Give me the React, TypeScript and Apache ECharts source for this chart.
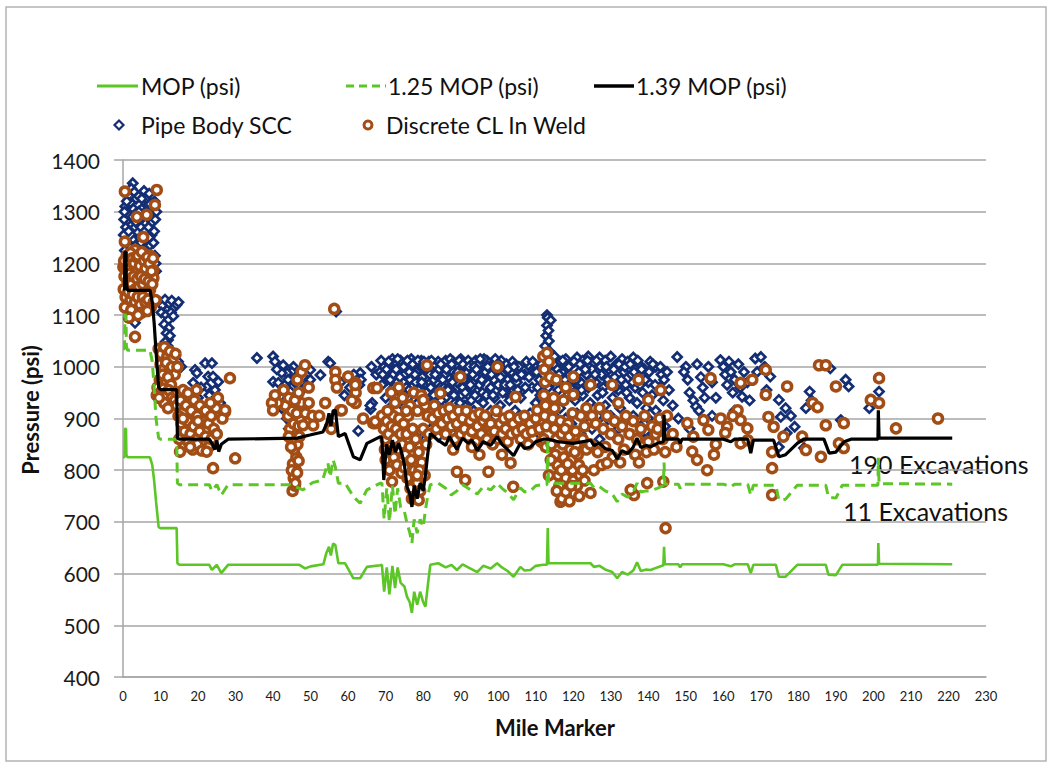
import React, { useEffect, useRef } from "react";
import * as echarts from "echarts";

// Axis ranges
const X_MIN = 0, X_MAX = 230, X_STEP = 10;
const Y_MIN = 400, Y_MAX = 1400, Y_STEP = 100;

// [mile marker, psi]
const mopPsi: number[][] = [
  [0,825],[0.4,825],[0.5,880],[0.8,880],[0.9,830],[1.2,825],[7.2,825],[7.8,810],[8.3,780],[8.8,740],[9.5,690],[10,688],[14.3,688],[14.5,620],[15,617],[23,617],[23.7,607],[25,617],[26.2,601],[28,617],[47,617],[48.5,610],[50,614],[53.4,618],[54.2,640],[54.9,652],[55.4,635],[56,658],[56.6,655],[57.4,620],[59.2,620],[61.4,591],[63.2,591],[65,613],[68.6,616],[69,617],[69.6,565],[70.3,612],[71,560],[71.8,615],[72.5,572],[73.2,612],[74,582],[75,575],[75.7,555],[76.4,545],[77,524],[77.6,565],[78.4,540],[79.2,565],[80,545],[80.6,536],[81.2,575],[81.9,617],[84,620],[86,612],[87.5,617],[89,607],[90.5,618],[92,612],[94.4,603],[96,615],[98,610],[99.7,620],[101,612],[102.5,605],[104.1,594],[105.9,613],[107,606],[108.6,607],[110,615],[112,617],[113,617],[113.2,688],[113.4,620],[124.6,620],[125.5,613],[127,615],[128.5,608],[130.4,603],[131.7,591],[133,603],[134.5,598],[136,606],[137,622],[138,605],[139.5,608],[140.6,607],[142.4,612],[144,616],[144.2,652],[144.4,618],[148,618],[148.5,612],[149,618],[160,618],[162,614],[163,618],[166.5,618],[167.3,601],[168,617],[174,617],[174.8,594],[176.6,594],[179.7,617],[187.3,617],[188,598],[190,597],[191.7,617],[201.2,617],[201.3,659],[201.5,619],[221,618]
];

const mop125Psi: number[][] = [
  [0,1035],[0.4,1035],[0.5,1100],[0.8,1100],[0.9,1040],[1.2,1032],[7.2,1032],[7.8,1010],[8.3,960],[8.8,900],[9.5,862],[10,860],[14.3,860],[14.5,775],[15,772],[23,772],[23.7,760],[25,772],[26.2,752],[28,772],[44.6,772],[46,768],[48,762],[50.5,776],[53.2,781],[54.6,814],[55.2,787],[56,820],[56.6,806],[57.4,775],[59.2,775],[61.4,749],[63.2,736],[65,762],[68.6,775],[69,775],[69.6,705],[70.3,765],[71,700],[71.8,770],[72.5,715],[73.2,765],[74,728],[75,720],[75.7,697],[76.4,680],[77,659],[77.6,705],[78.4,678],[79.2,705],[80,690],[80.6,723],[81.2,750],[81.9,772],[84,775],[86,765],[87.5,752],[89,760],[90.5,772],[92,765],[94.4,754],[96,768],[98,762],[99.7,775],[101,765],[102.5,756],[104.1,743],[105.9,766],[107,758],[108.6,760],[110,770],[112,772],[113,772],[113.2,860],[113.4,775],[124.6,775],[125.5,766],[127,768],[128.5,760],[130.4,754],[131.7,739],[133,754],[134.5,748],[136,758],[137,775],[138,758],[139.5,760],[140.6,760],[142.4,765],[144,770],[144.2,815],[144.4,773],[148,773],[148.5,765],[149,773],[160,773],[162,768],[163,773],[166.5,773],[167.3,752],[168,771],[174,771],[174.8,742],[176.6,744],[179.7,771],[187.3,771],[188,748],[190,746],[191.7,771],[201.2,771],[201.3,824],[201.5,774],[221,773]
];

const mop139Psi: number[][] = [
  [0,1150],[0.4,1150],[0.5,1222],[0.8,1222],[0.9,1160],[1.2,1148],[7.2,1148],[7.8,1125],[8.3,1085],[8.8,1030],[9.5,960],[10,956],[14.3,956],[14.5,862],[15,860],[23,860],[23.7,852],[24.5,840],[25,858],[25.5,836],[26.2,850],[28,860],[46.5,862],[48,865],[49.8,868],[53.3,874],[54.3,890],[54.9,910],[55.4,885],[56,915],[56.6,916],[57.4,865],[59.2,871],[61.4,826],[63.2,820],[65,852],[68.6,865],[69,862],[69.5,781],[70.2,850],[71,830],[71.8,858],[72.6,835],[73.5,852],[74.4,830],[75,810],[75.7,768],[76.4,755],[77,729],[77.6,770],[78.4,745],[79.2,775],[80,760],[80.6,790],[81.2,830],[81.9,871],[84,858],[86,848],[87,865],[88,852],[89,840],[90.5,862],[92,852],[93,858],[94.4,838],[96,855],[98,848],[99.7,865],[101,850],[102.5,840],[104.1,828],[105.9,852],[107,842],[108.6,845],[110,855],[112,860],[113.4,860],[116,855],[120,852],[124.6,858],[125.5,848],[127,852],[128.5,842],[130.4,838],[131.7,822],[133,838],[134.5,832],[136,845],[137,862],[138,844],[139.5,848],[140.6,845],[142.4,852],[144,855],[144.2,907],[144.4,860],[148,860],[148.5,852],[149,860],[160,860],[162,855],[163,860],[166.5,860],[167.3,833],[168,858],[173.4,858],[174.8,826],[176.6,830],[179.7,852],[181.4,860],[186.8,860],[188.2,833],[190,835],[192.2,855],[194,860],[201.2,860],[201.3,916],[201.5,862],[221,862]
];

const pipeBodySCC: number[][] = [
  [2.6,1355],[2.2,1345],[3.0,1338],[1.6,1330],[3.5,1325],[2.0,1318],[4.2,1330],[5.6,1340],[6.2,1325],[7.0,1335],[6.6,1312],[5.0,1305],[0.6,1310],[1.2,1300],[0.3,1285],[1.8,1292],[2.8,1305],[3.6,1298],[4.6,1285],[5.4,1290],[6.0,1300],[7.4,1295],[8.0,1305],[8.4,1320],[7.8,1280],[0.8,1270],[0.2,1255],[1.5,1262],[2.4,1275],[3.2,1270],[4.0,1260],[4.8,1270],[5.8,1262],[6.8,1270],[7.6,1255],[8.3,1262],[2.9,1245],[3.8,1238],[4.5,1250],[5.2,1245],[6.4,1240],[7.2,1235],[8.1,1240],[1.2,1240],[2.0,1230],[0.5,1225],[6.0,1222],[8.5,1215],[8.6,1285],[8.9,1300],[8.7,1200],[8.8,1185],[3.3,1210],[5.5,1195],[1.0,1185],[3.2,1085],[4.2,1300],[3.4,1280],[2.5,1290],[5.0,1325],[6.5,1290],[7.2,1315],[1.0,1320],[0.4,1300],[4.8,1240],[7.0,1250],
  [9.8,1125],[10.5,1118],[11.2,1130],[11.8,1110],[12.4,1122],[13.0,1128],[13.6,1115],[14.3,1120],[14.8,1125],[10.2,1105],[11.5,1100],[12.8,1105],[13.4,1098],[12.0,1090],[11.0,1082],[12.2,1075],[11.6,1065],[12.0,1052],[12.5,1060],[11.3,1048],[11.9,1040],[12.3,1030],[11.7,1022],[14.7,1010],[13.2,985],[10.5,995],[15.5,1000],
  [19.2,994],[21.9,1007],[23.7,1007],[22.7,981],[24.0,981],[25.4,971],[19.7,988],[18.7,969],[20.0,940],[22.3,961],[25.9,930],[20.0,930],[26.0,915],[21.0,918],[23.0,945],[24.5,955],[18.5,905],[20.8,960],
  [35.7,1017],[40.0,1020],[40.5,1010],[42.7,1003],[45.4,1000],[45.0,990],[43.7,988],[42.3,988],[40.0,971],[41.4,969],[43.2,965],[45.9,969],[42.7,955],[44.6,952],[41.9,942],[45.9,942],[43.2,930],[45.0,930],[46.3,933],[42.3,920],[44.6,913],[43.7,900],[45.9,903],[45.0,891],[46.3,910],[48.0,981],[49.9,994],[49.9,975],[52.6,984],[54.7,1010],[48.6,961],[47.7,955],[44.0,975],[46.8,985],[41.0,995],[44.2,880],[47.2,925],
  [56.8,1107],[55.2,1007],[63.2,988],[63.4,975],[63.0,965],[62.7,876],[66.4,930],[66.0,918],[65.9,925],[60.5,960],[59.0,945],[61.5,985],[58.0,970],[67.0,960],[67.5,985],[66.2,1000],
  [68.5,990],[69,965],[69.5,1000],[70,940],[70.5,975],[71,1005],[71,920],[71.5,955],[72,985],[72,900],[72.5,1010],[73,940],[73,970],[73.5,995],[74,1012],[74,955],[74.5,925],[75,985],[75,1003],[75.5,960],[76,1010],[76,940],[76.5,975],[77,995],[77,915],[77.5,950],[78,1005],[78,970],[78.5,930],[79,990],[79,945],[79.5,1012],[80,965],[80,920],[80.5,1000],[81,980],[81,940],[81.5,1010],[82,960],[82,900],[82.5,990],[83,1005],[83,935],[83.5,970],[84,1010],[84,950],[84.5,985],[85,920],[85,1000],[85.5,960],[86,1012],[86,940],[86.5,980],[87,1000],[87,910],[87.5,955],[88,990],[88,1010],[88.5,930],[89,970],[89,1005],[89.5,945],[90,985],[90,1015],[90.5,960],[91,1000],[91,925],[91.5,975],[92,1012],[92,945],[92.5,990],[93,1005],[93,960],[93.5,915],[94,980],[94,1012],[94.5,940],[95,995],[95,965],[95.5,1010],[96,930],[96,975],[96.5,1000],[97,950],[97,1012],[97.5,985],[98,915],[98,960],[98.5,1005],[99,940],[99,990],[99.5,1010],[100,965],[100.5,925],[101,985],[101.5,1000],[102,950],[102.5,975],[103,935],[103.5,990],[104,955],[104.5,915],[105,970],[106,940],[107,985],[108,1003],[108.5,910],[109,960],[110,930],[111,975],[112,945],[112,1000],[112.5,1040],[112.8,1060],[113,1080],[113,1100],[113.2,1095],[113.4,1070],[113.5,1050],[113.6,1030],[113.8,1015],[114,1090],[114,1000],[114.2,985],[113.3,960],[114.5,970],
  [70,880],[72.5,860],[74,890],[75.5,870],[77,850],[79,875],[80.5,860],[82,880],[84,865],[86,890],[88,870],[90,900],[92,885],[93,870],[95,900],[96.5,880],[98,895],[100,880],[103,875],[105,890],[107,865],[109,895],[111,870],
  [68.8,1012],[70.2,995],[71.8,1015],[73.2,1015],[74.8,1000],[76.8,1015],[78.2,990],[79.8,980],[81.2,995],[82.8,975],[84.2,995],[85.8,985],[87.2,1015],[88.8,985],[90.2,945],[91.8,990],[93.2,985],[94.8,1005],[96.2,1015],[97.8,1000],[99.2,1015],[100.8,1012],[102.2,1005],[103.8,1010],[105.5,1000],[107.5,1010],[109.5,990],[111.5,1005],[76.2,955],[79.2,960],[83.8,930],[86.8,960],[89.8,930],[92.8,935],[95.8,950],[98.8,975],[101.8,965],[104.8,980],[106.5,955],[110.5,960],
  [69.2,985],[70.8,1010],[71.2,975],[72.2,960],[72.8,995],[73.8,980],[74.2,935],[75.2,945],[75.8,1012],[76.3,990],[77.2,1005],[77.8,985],[78.6,1012],[78.8,955],[79.6,970],[80.2,1010],[80.8,950],[81.8,985],[82.2,1012],[82.8,945],[83.2,985],[84.7,1005],[84.8,935],[85.2,975],[86.2,995],[86.6,955],[87.6,1005],[87.8,970],[88.2,945],[89.2,990],[89.6,1012],[90.6,1005],[90.8,975],[91.2,950],[92.2,1000],[92.6,965],[93.6,1000],[93.8,945],[94.2,995],[95.2,1015],[95.6,975],[96.6,990],[96.8,945],[97.2,1000],[98.2,985],[98.6,945],[99.6,995],[100.2,1005],[100.6,980],[101.2,950],[102.6,995],[103.2,965],[104.2,1000],[105.2,955],[106.2,985],[107.2,960],[108.2,980],[109.2,1010],[110.2,990],[111.2,945],
  [115,1020],[116.5,1010],[118,1015],[119.5,1005],[121,1018],[122.5,1012],[124,1020],[125.5,1008],[127,1018],[128.5,1012],[130,1020],[131.5,1005],[133,1015],[134.5,1010],[136,1018],[137.5,1005],[139,995],[140.5,1010],[142,1000],[143.5,985],
  [114.5,990],[115.5,975],[116,955],[117,990],[117.5,965],[118.5,945],[119,985],[120,960],[120.5,935],[121.5,990],[122,970],[122.5,945],[123.5,985],[124,960],[124.5,930],[125,995],[126,970],[126.5,945],[127.5,985],[128,960],[128.5,925],[129.5,995],[130,965],[130.5,940],[131,980],[132,955],[132.5,920],[133.5,990],[134,965],[135,940],[135.5,985],[136.5,960],[137,930],[138,975],[138.5,950],[139.5,920],[140,970],[141,945],[142,915],[143,960],[144,935],[145,990],
  [114.8,1005],[115.8,995],[116.2,985],[117.2,1012],[117.8,975],[118.8,1000],[119.2,960],[120.2,1010],[120.8,975],[121.8,1005],[122.2,955],[123.2,995],[123.8,1012],[124.8,975],[125.8,985],[126.2,1012],[127.2,1000],[127.8,950],[128.8,1000],[129.2,975],[130.8,995],[131.2,960],[132.2,1005],[132.8,975],[133.8,1000],[134.2,950],[135.2,1005],[135.8,970],[136.2,990],[137.2,1012],[137.8,965],[138.2,995],[139.2,975],[140.2,990],[141.2,1005],[141.8,965],[143.2,1000],[144.2,975],
  [114,930],[115,905],[116.5,920],[118,900],[119.5,890],[121,910],[123,900],[125,880],[126.5,905],[128,890],[130,905],[132,880],[134,895],[136,905],[138,885],[140,900],[142,880],[117,875],[122,870],[127,860],[131,865],[135,870],[139,860],[143,875],
  [147.7,1019],[150,1000],[150.5,975],[151,950],[152,935],[152.7,923],[149.5,990],[153,1005],[154,980],[154.5,960],[155,940],[153.5,915],[156,1000],[157,970],[158,940],[159.2,1013],[160,1000],[160.5,985],[161,965],[161.5,1010],[162,990],[162.5,950],[163,975],[164,1005],[164.5,960],[165,942],[165.5,990],[166.4,970],[168.5,1016],[169,990],[170,1019],[171,1000],[172.5,981],[171.5,955],[174.8,936],[176.6,920],[175.3,903],[176.9,872],[179,884],[183,952],[182,920],[188.5,997],[192.6,975],[193.4,962],[191.3,897],[198.9,920],[201.5,952],[181.5,843],[174.8,845],[145.5,955],[146.5,925],[148,900],[151,880],[157,905],[163,915],[167,935],[141,870],[144.5,885],[178,905],[183.5,935]
];

const discreteCLWeld: number[][] = [
  [0.5,1242],[0.1,1193],[3.2,1226],[5.4,1220],[7.2,1215],[8.1,1187],[8.1,1172],[7.2,1149],[1.0,1215],[0.3,1205],[0.8,1190],[1.5,1205],[2.0,1220],[2.5,1210],[3.0,1200],[3.6,1212],[4.0,1215],[4.5,1195],[5.0,1222],[5.6,1205],[6.0,1190],[6.5,1212],[7.0,1200],[7.6,1185],[8.0,1210],[0.4,1175],[1.2,1165],[1.8,1180],[2.3,1160],[2.8,1175],[3.3,1150],[3.8,1170],[4.3,1155],[4.8,1175],[5.3,1160],[5.8,1170],[6.3,1145],[6.8,1165],[7.8,1160],[0.2,1150],[0.7,1135],[1.4,1145],[2.0,1130],[2.6,1140],[3.2,1125],[3.9,1135],[4.6,1120],[5.3,1135],[6.0,1125],[6.7,1130],[7.4,1115],[8.2,1125],[0.5,1115],[2.2,1110],[5.0,1105],[3.2,1058],[0.5,1339],[9.0,1342],[8.5,1313],[3.7,1290],[6.3,1294],[5.4,1251],[8.7,1129],[4.0,1100],[6.5,1108],[1.6,1095],
  [9.5,1035],[10.2,1025],[11.0,1038],[11.8,1020],[12.5,1030],[13.2,1015],[14.0,1025],[10.0,1005],[10.8,995],[11.5,1008],[12.3,990],[13.0,1000],[13.8,985],[14.5,1000],[9.8,975],[10.6,985],[11.4,970],[12.0,980],[12.8,965],[9.2,960],[10.0,950],[10.8,958],[11.5,945],[12.2,955],[13.0,940],[9.0,945],[13.8,935],[14.3,925],[11.0,930],[12.0,920],[9.6,940],
  [14.5,950],[15.3,935],[16.0,955],[16.8,925],[17.5,945],[18.2,915],[19.0,935],[19.8,905],[20.5,925],[21.3,895],[22.0,915],[22.8,890],[23.5,905],[24.2,880],[14.8,905],[15.6,890],[16.4,875],[17.2,895],[18.0,870],[18.8,885],[19.6,860],[20.4,875],[21.2,850],[22.0,865],[22.8,845],[23.6,860],[15.0,860],[16.2,845],[17.4,855],[18.6,840],[19.8,850],[21.0,838],[22.3,836],[24.0,804],[15.2,836],[17.9,845],[27.2,913],[28.5,978],[29.9,823],[25.3,940],[26.5,900],[24.8,920],[23.3,930],[19.6,955],[17.3,949],[27.2,916],[25.0,870],[16.0,900],[20.0,895],
  [45.2,760],[45.8,770],[45.5,785],[46.0,800],[45.3,812],[46.2,825],[45.6,840],[46.5,850],[45.0,860],[46.0,870],[44.5,880],[45.5,890],[46.8,885],[47.3,900],[44.0,905],[45.0,915],[46.3,910],[47.5,930],[43.2,925],[44.2,940],[45.8,935],[46.8,950],[42.8,955],[41.2,930],[39.7,930],[40.0,916],[40.5,945],[47.0,865],[44.8,845],[46.8,818],[45.0,800],[44.2,865],[48.0,887],[48.6,910],[50.5,905],[49.5,960],[46.5,975],[47.6,990],[45.9,775],[46.4,795],
  [56.3,1112],[56.6,990],[56.6,975],[60.0,981],[62.0,969],[62.0,950],[62.0,930],[57.9,916],[67.2,891],[53.9,930],[48.5,1003],[55.2,884],[57.0,960],[61.9,965],[66.7,959],[66.7,891],[58.3,916],[52.3,905],[55.5,880],[50.7,887],[49.5,930],[61.0,935],[64.0,900],[67.7,959],[67.2,894],
  [69.0,905],[69.5,880],[70.0,860],[70.3,895],[70.8,870],[71.2,845],[71.6,885],[72.0,905],[72.4,860],[72.8,880],[73.2,840],[73.6,900],[74.0,870],[74.4,850],[74.8,890],[75.2,830],[75.6,870],[76.0,905],[76.4,845],[76.8,820],[77.2,880],[77.6,800],[78.0,860],[78.4,775],[78.8,835],[79.2,760],[79.6,815],[80.0,880],[80.4,790],[80.8,850],[81.2,905],[70.0,820],[71.0,800],[72.2,825],[73.0,810],[74.2,795],[75.0,805],[75.8,785],[76.6,765],[77.0,745],[78.8,742],[79.0,800],[72.5,930],[74.5,940],[76.5,925],[78.5,915],[80.5,925],[71.5,950],[73.5,960],[77.5,950],[79.5,945],[71.7,778],[81.0,1003],[78.4,790],[80.0,936],[81.5,870],[70.5,915],[75.5,915],[69.8,840],
  [82.5,900],[83.0,925],[83.5,880],[84.0,910],[84.6,949],[85.0,890],[85.5,915],[86.0,870],[86.5,900],[87.0,920],[87.5,885],[88.0,905],[88.5,860],[89.0,890],[89.5,915],[89.9,981],[90.0,870],[90.5,900],[91.0,880],[91.5,915],[92.0,865],[92.5,895],[93.0,875],[93.5,905],[94.0,855],[94.5,885],[95.0,910],[95.5,870],[96.0,895],[96.5,905],[97.0,860],[97.5,885],[98.0,890],[98.5,850],[99.0,875],[99.5,915],[100.0,860],[100.5,890],[101.0,870],[101.5,900],[102.0,880],[102.5,855],[103.0,905],[103.5,870],[104.0,890],[104.6,942],[105.0,875],[105.5,900],[106.0,860],[106.5,880],[107.0,905],[107.5,870],[108.0,850],[108.5,890],[109.0,875],[110.0,900],[110.4,916],[111.0,880],[111.5,855],[89.0,797],[97.4,797],[91.2,781],[103.3,814],[104.0,768],[99.8,1000],[88.0,840],[95.0,830],[101.0,830],[93.0,845],
  [112.0,1020],[112.3,995],[112.5,970],[112.2,945],[112.6,925],[112.4,905],[112.8,885],[112.1,860],[112.7,845],[113.0,1027],
  [114.5,900],[115.0,880],[115.5,860],[115.2,830],[115.8,810],[116.0,790],[116.3,770],[116.6,895],[116.9,870],[117.2,850],[117.5,825],[117.8,805],[118.0,785],[118.3,760],[118.6,890],[118.9,865],[119.2,840],[119.5,820],[119.8,800],[120.0,780],[120.3,755],[120.6,875],[120.9,850],[121.2,830],[121.5,810],[121.8,790],[122.0,905],[116.6,739],[117.0,745],[118.0,758],[119.0,740],[115.0,920],[117.4,935],[119.8,910],[121.0,770],[114.2,850],[122.5,860],[123.0,885],[123.5,840],[116.8,800],[118.5,812],[120.4,835],[115.6,760],[119.4,770],[121.6,750],[117.8,880],[114.8,940],[113.8,980],[115.5,975],[118.0,960],[113.5,1010],[120.0,981],[120.0,946],[124.6,965],[124.6,756],[114.0,820],[113.5,790],[122.5,800],[123.0,780],
  [123.5,920],[125.0,905],[126.0,890],[127.0,920],[128.0,880],[129.0,905],[130.0,870],[131.0,895],[132.0,860],[133.0,885],[134.0,905],[135.0,870],[136.0,895],[137.0,860],[138.0,880],[139.0,905],[140.0,855],[141.0,885],[142.0,870],[143.0,900],[124.5,850],[126.5,835],[128.5,845],[130.5,825],[133.5,840],[136.5,830],[139.5,835],[127.5,810],[132.5,815],[137.5,815],[125.5,800],[129.0,814],[130.4,965],[137.4,975],[132.0,930],[140.0,936],[143.3,955],[136.2,752],[135.3,762],[139.7,775],[144.0,778],[144.6,688],[141.5,840],[144.5,835],[145.0,905],[146.5,870],[147.5,845],[142.5,880],[143.8,860],
  [150.4,891],[151.7,836],[153.0,820],[155.7,800],[156.0,878],[154.7,897],[159.3,900],[161.0,884],[164.6,897],[164.6,852],[166.4,881],[164.6,969],[156.6,978],[167.7,975],[171.3,994],[171.3,946],[172.0,903],[173.4,884],[173.0,835],[173.0,804],[173.0,752],[177.0,962],[176.0,865],[181.0,865],[182.0,839],[183.8,930],[185.1,922],[186.0,826],[187.3,887],[185.5,1003],[187.3,1003],[190.0,962],[192.1,891],[190.8,852],[192.1,843],[199.3,936],[201.5,978],[201.5,930],[206.0,881],[217.2,900],[152.0,865],[157.5,830],[158.0,850],[160.5,872],[163.8,916],[166.5,858],[162.5,905]
];

const legendLabels = ["MOP (psi)", "1.25 MOP (psi)", "1.39 MOP (psi)", "Pipe Body SCC", "Discrete CL In Weld"];
const annotations = ["190 Excavations", "11 Excavations"];

const FONT = 'Lato, "Liberation Sans", sans-serif';
const GREEN = "#5cc626";
const NAVY = "#142e74";
const BROWN = "#a24d15";
const GRID = "#a6a6a6";

export default function App() {
  const ref = useRef<HTMLDivElement>(null);
  useEffect(() => {
    const chart = echarts.init(ref.current!, undefined, { renderer: "svg" });
    const textStyle = (size: number, weight = "normal") => ({
      fill: "#111", fontFamily: FONT, fontSize: size, fontWeight: weight,
    });
    chart.setOption({
      animation: false,
      backgroundColor: "#ffffff",
      grid: { left: 123, right: 67, top: 160, bottom: 91 },
      xAxis: {
        type: "value", min: X_MIN, max: X_MAX, interval: X_STEP,
        axisLine: { show: true, onZero: false, lineStyle: { color: GRID, width: 1.5 } },
        axisTick: { show: false },
        splitLine: { show: false },
        axisLabel: { color: "#1a1a1a", fontFamily: FONT, fontSize: 13, margin: 12 },
      },
      yAxis: {
        type: "value", min: Y_MIN, max: Y_MAX, interval: Y_STEP,
        axisLine: { show: true, lineStyle: { color: GRID, width: 1.5 } },
        axisTick: { show: true, length: 9, lineStyle: { color: GRID, width: 1.5 } },
        splitLine: { show: true, lineStyle: { color: GRID, width: 1.5 } },
        axisLabel: { color: "#1a1a1a", fontFamily: FONT, fontSize: 21, margin: 23,
          formatter: (v: number) => String(v) },
      },
      series: [
        { type: "line", name: legendLabels[0], data: mopPsi, symbol: "none", showSymbol: false,
          lineStyle: { color: GREEN, width: 2.6 } },
        { type: "line", name: legendLabels[1], data: mop125Psi, symbol: "none", showSymbol: false,
          lineStyle: { color: GREEN, width: 3, type: [10, 6] } },
        { type: "line", name: legendLabels[2], data: mop139Psi, symbol: "none", showSymbol: false,
          lineStyle: { color: "#000", width: 3.2 } },
        { type: "scatter", name: legendLabels[3], data: pipeBodySCC, symbol: "diamond", symbolSize: 9,
          itemStyle: { color: "#ffffff", borderColor: NAVY, borderWidth: 2.7, opacity: 1 } },
        { type: "scatter", name: legendLabels[4], data: discreteCLWeld, symbol: "circle", symbolSize: 9,
          itemStyle: { color: "#ffffff", borderColor: BROWN, borderWidth: 3.5, opacity: 1 } },
      ],
      graphic: [
        { type: "rect", shape: { x: 6, y: 7, width: 1040, height: 754 }, style: { fill: "none", stroke: "#b4b4b4", lineWidth: 1.5 }, z: -1 },
        // legend row 1
        { type: "line", shape: { x1: 97, y1: 86, x2: 138, y2: 86 }, style: { stroke: GREEN, lineWidth: 3 } },
        { type: "text", x: 141, y: 86, style: { ...textStyle(23), text: legendLabels[0], verticalAlign: "middle" } },
        { type: "line", shape: { x1: 346, y1: 86, x2: 386, y2: 86 }, style: { stroke: GREEN, lineWidth: 3, lineDash: [8, 5] } },
        { type: "text", x: 388, y: 86, style: { ...textStyle(23), text: legendLabels[1], verticalAlign: "middle" } },
        { type: "line", shape: { x1: 594, y1: 86, x2: 634, y2: 86 }, style: { stroke: "#000", lineWidth: 3.5 } },
        { type: "text", x: 636, y: 86, style: { ...textStyle(23), text: legendLabels[2], verticalAlign: "middle" } },
        // legend row 2
        { type: "polygon", shape: { points: [[119, 120.5], [123.5, 125], [119, 129.5], [114.5, 125]] }, style: { fill: "#fff", stroke: NAVY, lineWidth: 2.2 } },
        { type: "text", x: 141, y: 125, style: { ...textStyle(23), text: legendLabels[3], verticalAlign: "middle" } },
        { type: "circle", shape: { cx: 368, cy: 125, r: 4 }, style: { fill: "#fff", stroke: BROWN, lineWidth: 3 } },
        { type: "text", x: 386, y: 125, style: { ...textStyle(23), text: legendLabels[4], verticalAlign: "middle" } },
        // axis titles
        { type: "text", x: 30, y: 410, rotation: Math.PI / 2,
          style: { ...textStyle(22, "bold"), text: "Pressure (psi)", align: "center", verticalAlign: "middle" } },
        { type: "text", x: 555, y: 727,
          style: { ...textStyle(22, "bold"), text: "Mile Marker", align: "center", verticalAlign: "middle" } },
        // annotations
        { type: "text", x: 849, y: 464, style: { ...textStyle(25), text: annotations[0], verticalAlign: "middle" } },
        { type: "text", x: 843, y: 511, style: { ...textStyle(25), text: annotations[1], verticalAlign: "middle" } },
      ],
    });
    return () => chart.dispose();
  }, []);
  return (
    <div
      ref={ref}
      style={{ position: "fixed", left: 0, top: 0, width: 1053, height: 768, background: "#fff" }}
    />
  );
}
